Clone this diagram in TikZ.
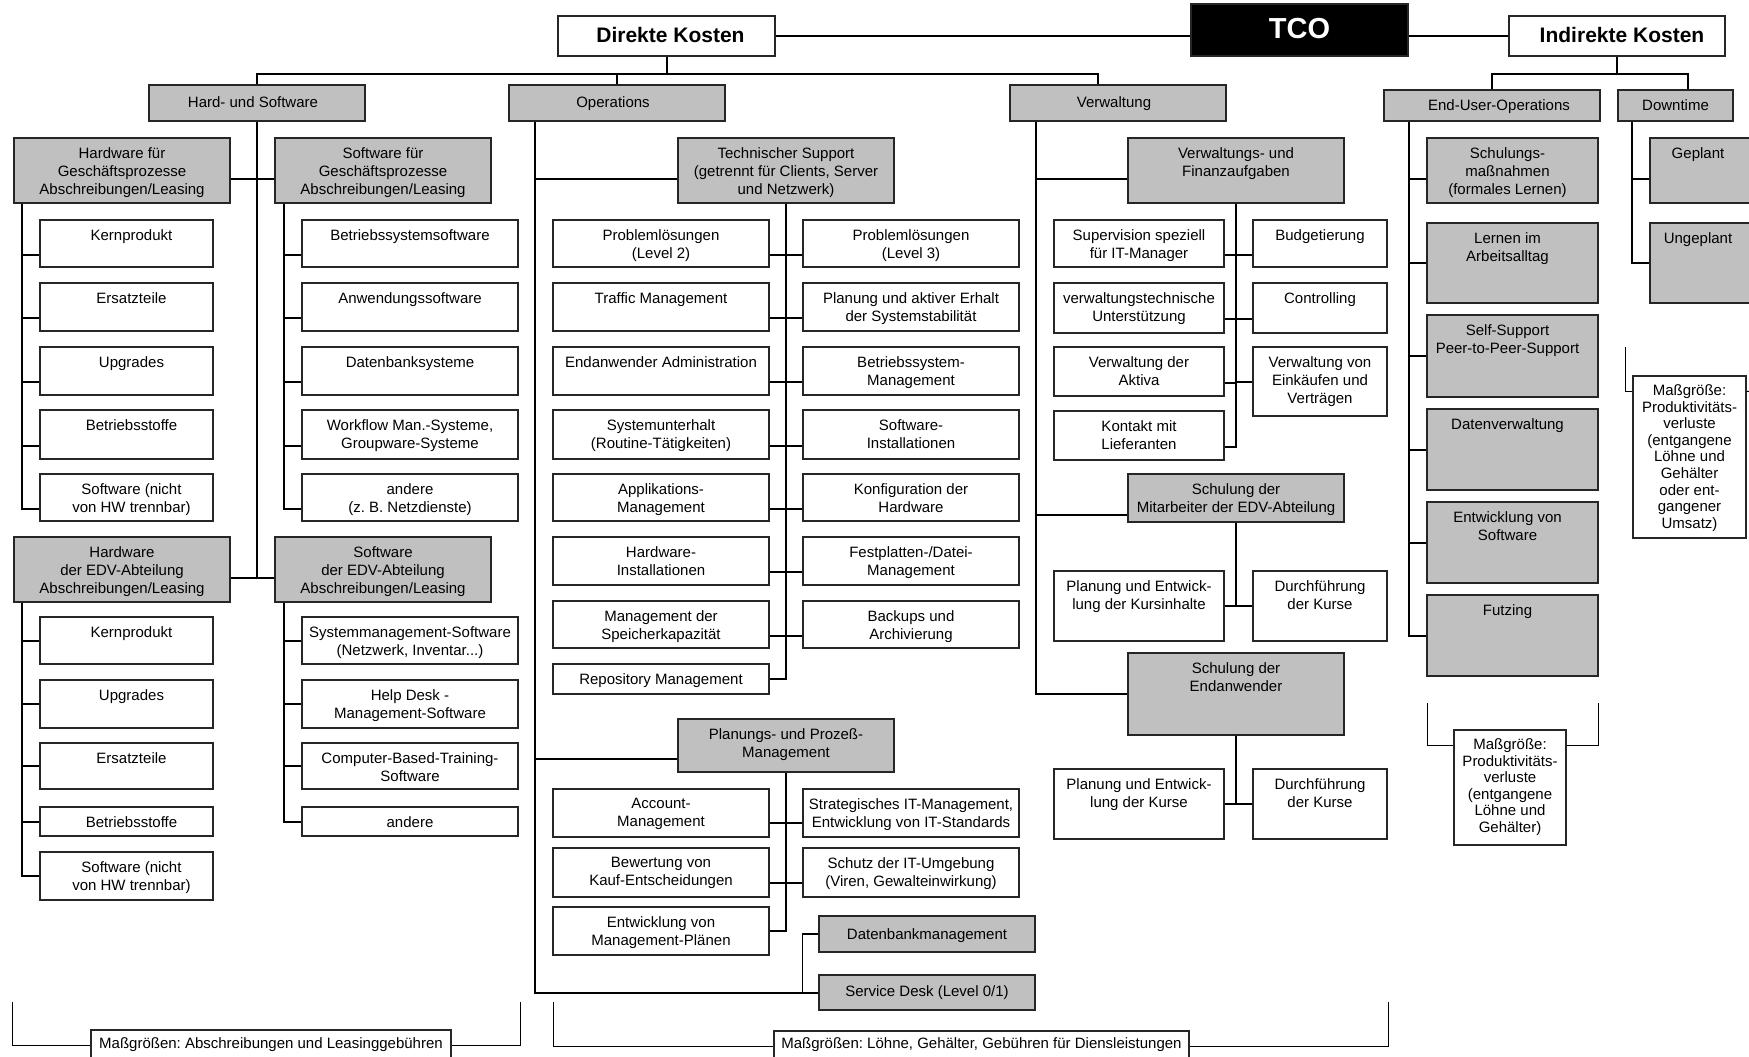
\documentclass[tikz,border=0pt]{standalone}
\usepackage{fontspec}
\setmainfont{Liberation Sans}
\usetikzlibrary{fit}
\definecolor{boxgray}{HTML}{C0C0C0}
\frenchspacing

\begin{document}
\begin{tikzpicture}[x=1pt, y=-1pt,
		conn/.style={line width=2pt},
		dbline/.style={line width=1.4pt},
		brk/.style={line width=1pt},
		box/.style={draw=black!85, line width=1.2pt, fill=white, inner sep=0pt},
		gbox/.style={box, line width=1.5pt, fill=boxgray},
		head/.style={box, line width=1.6pt},
		txt/.style={anchor=north, inner sep=0pt, align=center, font=\fontsize{15}{18}\selectfont},
		ntxt/.style={txt, font=\fontsize{15}{16.6}\selectfont},
		lbl/.style={label={[txt, yshift=-10pt]north:{#1}}},
		clbl/.style 2 args={label={[txt, #1]north:{#2}}},
		hlbl/.style 2 args={label={[txt, yshift=-12pt, xshift=#1, font=\bfseries\fontsize{21}{24}\selectfont]north:{#2}}},
		nlbl/.style={label={[ntxt, yshift=-9pt]north:{#1}}}]
		\useasboundingbox (0,0) rectangle (1749,1057);
		\clip (0,0) rectangle (1749,1057);

		\node[head, fit={(558,16) (775,56)}, hlbl={4pt}{Direkte Kosten}] (dk) {};
		\node[head, fill=black, fit={(1191,4) (1408,56)}, label={[txt, yshift=-15pt, text=white, font=\bfseries\fontsize{29}{32}\selectfont]north:{TCO}}] (tco) {};
		\node[head, fit={(1509,16) (1725,56)}, hlbl={5pt}{Indirekte Kosten}] (ik) {};

		\node[gbox, fit={(149,85) (365,121)}, clbl={yshift=-12pt, xshift=-4pt}{Hard- und Software}] (hs) {};
		\node[gbox, fit={(509,85) (725,121)}, clbl={yshift=-12pt, xshift=-4pt}{Operations}] (ops) {};
		\node[gbox, fit={(1010,85) (1226,121)}, clbl={yshift=-12pt, xshift=-4pt}{Verwaltung}] (vw) {};
		\node[gbox, fit={(1384,90) (1600,121)}, clbl={yshift=-10pt, xshift=7pt}{End-User-Operations}] (euo) {};
		\node[gbox, fit={(1618,90) (1733,121)}, clbl={yshift=-10pt}{Downtime}] (dt) {};

		\node[gbox, fit={(14,138) (230,203)}, lbl={Hardware für\\Geschäftsprozesse\\Abschreibungen/Leasing}] (hwgp) {};
		\node[gbox, fit={(275,138) (491,203)}, lbl={Software für\\Geschäftsprozesse\\Abschreibungen/Leasing}] (swgp) {};
		\node[box, fit={(40,220) (213,267)}, clbl={yshift=-10pt, xshift=5pt}{Kernprodukt}] (a1) {};
		\node[box, fit={(40,283) (213,331)}, clbl={yshift=-10pt, xshift=5pt}{Ersatzteile}] (a2) {};
		\node[box, fit={(40,347) (213,395)}, clbl={yshift=-10pt, xshift=5pt}{Upgrades}] (a3) {};
		\node[box, fit={(40,410) (213,459)}, clbl={yshift=-10pt, xshift=5pt}{Betriebsstoffe}] (a4) {};
		\node[box, fit={(40,474) (213,521)}, clbl={yshift=-10pt, xshift=5pt}{Software (nicht\\von HW trennbar)}] (a5) {};
		\node[box, fit={(302,220) (518,267)}, lbl={Betriebssystemsoftware}] (b1) {};
		\node[box, fit={(302,283) (518,331)}, lbl={Anwendungssoftware}] (b2) {};
		\node[box, fit={(302,347) (518,395)}, lbl={Datenbanksysteme}] (b3) {};
		\node[box, fit={(302,410) (518,459)}, lbl={Workflow Man.-Systeme,\\Groupware-Systeme}] (b4) {};
		\node[box, fit={(302,474) (518,521)}, lbl={andere\\(z. B. Netzdienste)}] (b5) {};

		\node[gbox, fit={(14,537) (230,602)}, lbl={Hardware\\der EDV-Abteilung\\Abschreibungen/Leasing}] (hwedv) {};
		\node[gbox, fit={(275,537) (491,602)}, lbl={Software\\der EDV-Abteilung\\Abschreibungen/Leasing}] (swedv) {};
		\node[box, fit={(40,617) (213,664)}, clbl={yshift=-10pt, xshift=5pt}{Kernprodukt}] (c1) {};
		\node[box, fit={(40,680) (213,728)}, clbl={yshift=-10pt, xshift=5pt}{Upgrades}] (c2) {};
		\node[box, fit={(40,743) (213,789)}, clbl={yshift=-10pt, xshift=5pt}{Ersatzteile}] (c3) {};
		\node[box, fit={(40,807) (213,836)}, clbl={yshift=-10pt, xshift=5pt}{Betriebsstoffe}] (c4) {};
		\node[box, fit={(40,852) (213,900)}, clbl={yshift=-10pt, xshift=5pt}{Software (nicht\\von HW trennbar)}] (c5) {};
		\node[box, fit={(302,617) (518,664)}, lbl={Systemmanagement-Software\\(Netzwerk, Inventar...)}] (d1) {};
		\node[box, fit={(302,680) (518,728)}, lbl={Help Desk -\\Management-Software}] (d2) {};
		\node[box, fit={(302,743) (518,789)}, lbl={Computer-Based-Training-\\Software}] (d3) {};
		\node[box, fit={(302,807) (518,836)}, lbl={andere}] (d4) {};

		\node[gbox, fit={(678,138) (894,203)}, lbl={Technischer Support\\(getrennt für Clients, Server\\und Netzwerk)}] (ts) {};
		\node[box, fit={(553,220) (769,267)}, lbl={Problemlösungen\\(Level 2)}] (o1) {};
		\node[box, fit={(553,283) (769,331)}, lbl={Traffic Management}] (o2) {};
		\node[box, fit={(553,347) (769,395)}, lbl={Endanwender Administration}] (o3) {};
		\node[box, fit={(553,410) (769,459)}, lbl={Systemunterhalt\\(Routine-Tätigkeiten)}] (o4) {};
		\node[box, fit={(553,474) (769,521)}, lbl={Applikations-\\Management}] (o5) {};
		\node[box, fit={(553,537) (769,585)}, lbl={Hardware-\\Installationen}] (o6) {};
		\node[box, fit={(553,601) (769,648)}, lbl={Management der\\Speicherkapazität}] (o7) {};
		\node[box, fit={(553,664) (769,694)}, lbl={Repository Management}] (o8) {};
		\node[box, fit={(803,220) (1019,267)}, lbl={Problemlösungen\\(Level 3)}] (p1) {};
		\node[box, fit={(803,283) (1019,331)}, lbl={Planung und aktiver Erhalt\\der Systemstabilität}] (p2) {};
		\node[box, fit={(803,347) (1019,395)}, lbl={Betriebssystem-\\Management}] (p3) {};
		\node[box, fit={(803,410) (1019,459)}, lbl={Software-\\Installationen}] (p4) {};
		\node[box, fit={(803,474) (1019,521)}, lbl={Konfiguration der\\Hardware}] (p5) {};
		\node[box, fit={(803,537) (1019,585)}, lbl={Festplatten-/Datei-\\Management}] (p6) {};
		\node[box, fit={(803,601) (1019,648)}, lbl={Backups und\\Archivierung}] (p7) {};

		\node[gbox, fit={(678,719) (894,772)}, lbl={Planungs- und Prozeß-\\Management}] (pup) {};
		\node[box, fit={(553,789) (769,837)}, lbl={Account-\\Management}] (q1) {};
		\node[box, fit={(553,848) (769,897)}, lbl={Bewertung von\\Kauf-Entscheidungen}] (q2) {};
		\node[box, fit={(553,907) (769,955)}, lbl={Entwicklung von\\Management-Plänen}] (q3) {};
		\node[box, fit={(803,789) (1019,837)}, lbl={Strategisches IT-Management,\\Entwicklung von IT-Standards}] (r1) {};
		\node[box, fit={(803,848) (1019,897)}, lbl={Schutz der IT-Umgebung\\(Viren, Gewalteinwirkung)}] (r2) {};
		\node[gbox, fit={(819,916) (1035,952)}, clbl={yshift=-13pt}{Datenbankmanagement}] (db) {};
		\node[gbox, fit={(819,975) (1035,1010)}, clbl={yshift=-11pt}{Service Desk (Level 0/1)}] (sd) {};

		\node[gbox, fit={(1128,138) (1344,203)}, lbl={Verwaltungs- und\\Finanzaufgaben}] (vuf) {};
		\node[box, fit={(1054,220) (1224,267)}, lbl={Supervision speziell\\für IT-Manager}] (v1) {};
		\node[box, fit={(1054,283) (1224,333)}, lbl={verwaltungstechnische\\Unterstützung}] (v2) {};
		\node[box, fit={(1054,347) (1224,396)}, lbl={Verwaltung der\\Aktiva}] (v3) {};
		\node[box, fit={(1054,411) (1224,460)}, lbl={Kontakt mit\\Lieferanten}] (v4) {};
		\node[box, fit={(1253,220) (1387,267)}, lbl={Budgetierung}] (w1) {};
		\node[box, fit={(1253,283) (1387,333)}, lbl={Controlling}] (w2) {};
		\node[box, fit={(1253,347) (1387,416)}, lbl={Verwaltung von\\Einkäufen und\\Verträgen}] (w3) {};
		\node[gbox, fit={(1128,474) (1344,522)}, lbl={Schulung der\\Mitarbeiter der EDV-Abteilung}] (sdm) {};
		\node[box, fit={(1054,571) (1224,641)}, lbl={Planung und Entwick-\\lung der Kursinhalte}] (k1) {};
		\node[box, fit={(1253,571) (1387,641)}, lbl={Durchführung\\der Kurse}] (k2) {};
		\node[gbox, fit={(1128,653) (1344,735)}, lbl={Schulung der\\Endanwender}] (sde) {};
		\node[box, fit={(1054,769) (1224,839)}, lbl={Planung und Entwick-\\lung der Kurse}] (k3) {};
		\node[box, fit={(1253,769) (1387,839)}, lbl={Durchführung\\der Kurse}] (k4) {};

		\node[gbox, fit={(1427,138) (1598,203)}, clbl={yshift=-10pt, xshift=-5pt}{Schulungs-\\maßnahmen\\(formales Lernen)}] (e1) {};
		\node[gbox, fit={(1427,223) (1598,303)}, clbl={yshift=-10pt, xshift=-5pt}{Lernen im\\Arbeitsalltag}] (e2) {};
		\node[gbox, fit={(1427,315) (1598,397)}, clbl={yshift=-10pt, xshift=-5pt}{Self-Support\\Peer-to-Peer-Support}] (e3) {};
		\node[gbox, fit={(1427,409) (1598,490)}, clbl={yshift=-10pt, xshift=-5pt}{Datenverwaltung}] (e4) {};
		\node[gbox, fit={(1427,502) (1598,583)}, clbl={yshift=-10pt, xshift=-5pt}{Entwicklung von\\Software}] (e5) {};
		\node[gbox, fit={(1427,595) (1598,676)}, clbl={yshift=-10pt, xshift=-5pt}{Futzing}] (e6) {};
		\node[gbox, fit={(1650,138) (1752,203)}, clbl={yshift=-10pt, xshift=-3pt}{Geplant}] (g1) {};
		\node[gbox, fit={(1650,223) (1752,303)}, clbl={yshift=-10pt, xshift=-3pt}{Ungeplant}] (g2) {};

		\node[box, fit={(91,1030) (451,1062)}, clbl={yshift=-8pt}{Maßgrößen: Abschreibungen und Leasinggebühren}] (m1) {};
		\node[box, fit={(774,1031) (1189,1062)}, clbl={yshift=-7.5pt}{Maßgrößen: Löhne, Gehälter, Gebühren für Diensleistungen}] (m2) {};
		\node[box, fit={(1454,730) (1566,845)}, nlbl={Maßgröße:\\Produktivitäts-\\verluste\\(entgangene\\Löhne und\\Gehälter)}] (m3) {};
		\node[box, fit={(1633,376) (1746,538)}, nlbl={Maßgröße:\\Produktivitäts-\\verluste\\(entgangene\\Löhne und\\Gehälter\\oder ent-\\gangener\\Umsatz)}] (m4) {};

		\draw[conn] (dk.east) -- (dk.east -| tco.west);
		\draw[conn] (ik.west) -- (ik.west -| tco.east);
		\coordinate (dkbus) at ([yshift=-17pt]dk.south);
		\draw[conn] (dk.south) -- (dkbus);
		\draw[conn] (hs.north) |- (dkbus);
		\draw[conn] (ops.north) |- (dkbus);
		\draw[conn] ([xshift=-20pt]vw.north) |- (dkbus);
		\coordinate (ikbus) at ([yshift=-17pt]ik.south);
		\draw[conn] (ik.south) -- (ikbus);
		\draw[conn] (euo.north) |- (ikbus);
		\draw[conn] ([xshift=12.5pt]dt.north) |- (ikbus);

		\draw[conn] (hs.south) |- ([yshift=-8.5pt]hwgp.east);
		\draw[conn] (hs.south) |- ([yshift=-8.5pt]swgp.west);
		\draw[conn] (hs.south) |- ([yshift=-8pt]hwedv.east);
		\draw[conn] (hs.south) |- ([yshift=-8pt]swedv.west);
		\coordinate (ta) at ([xshift=9pt]hwgp.south west);
		\draw[conn] (ta) |- ([yshift=-11pt]a1.west);
		\draw[conn] (ta) |- ([yshift=-11pt]a2.west);
		\draw[conn] (ta) |- ([yshift=-11pt]a3.west);
		\draw[conn] (ta) |- ([yshift=-11pt]a4.west);
		\draw[conn] (ta) |- ([yshift=-11pt]a5.west);
		\coordinate (tb) at ([xshift=10pt]swgp.south west);
		\draw[conn] (tb) |- ([yshift=-11pt]b1.west);
		\draw[conn] (tb) |- ([yshift=-11pt]b2.west);
		\draw[conn] (tb) |- ([yshift=-11pt]b3.west);
		\draw[conn] (tb) |- ([yshift=-11pt]b4.west);
		\draw[conn] (tb) |- ([yshift=-11pt]b5.west);
		\coordinate (tc) at ([xshift=9pt]hwedv.south west);
		\draw[conn] (tc) |- (c1.west);
		\draw[conn] (tc) |- (c2.west);
		\draw[conn] (tc) |- (c3.west);
		\draw[conn] (tc) |- (c4.west);
		\draw[conn] (tc) |- (c5.west);
		\coordinate (td) at ([xshift=10pt]swedv.south west);
		\draw[conn] (td) |- (d1.west);
		\draw[conn] (td) |- (d2.west);
		\draw[conn] (td) |- (d3.west);
		\draw[conn] (td) |- (d4.west);

		\coordinate (ot) at ([xshift=27pt]ops.south west);
		\draw[conn] (ot) |- ([yshift=-8.5pt]ts.west);
		\draw[conn] (ot) |- ([yshift=-13.5pt]pup.west);
		\draw[conn] (ot) |- (sd.west);
		\draw[dbline] (db.west) -| ([xshift=-16pt]sd.west);
		\draw[conn] (ts.south) |- ([yshift=-11pt]o1.east);
		\draw[conn] (ts.south) |- ([yshift=-11pt]o2.east);
		\draw[conn] (ts.south) |- ([yshift=-11pt]o3.east);
		\draw[conn] (ts.south) |- ([yshift=-11pt]o4.east);
		\draw[conn] (ts.south) |- ([yshift=-11pt]o5.east);
		\draw[conn] (ts.south) |- ([yshift=-11pt]o6.east);
		\draw[conn] (ts.south) |- ([yshift=-11pt]o7.east);
		\draw[conn] (ts.south) |- (o8.east);
		\draw[conn] (ts.south) |- ([yshift=-11pt]p1.west);
		\draw[conn] (ts.south) |- ([yshift=-11pt]p2.west);
		\draw[conn] (ts.south) |- ([yshift=-11pt]p3.west);
		\draw[conn] (ts.south) |- ([yshift=-11pt]p4.west);
		\draw[conn] (ts.south) |- ([yshift=-11pt]p5.west);
		\draw[conn] (ts.south) |- ([yshift=-11pt]p6.west);
		\draw[conn] (ts.south) |- ([yshift=-11pt]p7.west);
		\draw[conn] (pup.south) |- ([yshift=-10pt]q1.east);
		\draw[conn] (pup.south) |- ([yshift=-10pt]q2.east);
		\draw[conn] (pup.south) |- (q3.east);
		\draw[conn] (pup.south) |- ([yshift=-10pt]r1.west);
		\draw[conn] (pup.south) |- ([yshift=-10pt]r2.west);

		\coordinate (vt) at ([xshift=27pt]vw.south west);
		\draw[conn] (vt) |- ([yshift=-8.5pt]vuf.west);
		\draw[conn] (vt) |- ([yshift=-17pt]sdm.west);
		\draw[conn] (vt) |- (sde.west);
		\draw[conn] (vuf.south) |- ([yshift=-11pt]v1.east);
		\draw[conn] (vuf.south) |- ([yshift=-11pt]v2.east);
		\draw[conn] (vuf.south) |- ([yshift=-11pt]v3.east);
		\draw[conn] (vuf.south) |- ([yshift=-11pt]v4.east);
		\draw[conn] (vuf.south) |- ([yshift=-11pt]w1.west);
		\draw[conn] (vuf.south) |- ([yshift=-11pt]w2.west);
		\draw[conn] (vuf.south) |- (w3.west);
		\draw[conn] (sdm.south) |- (k1.east);
		\draw[conn] (sdm.south) |- (k2.west);
		\draw[conn] (sde.south) |- (k3.east);
		\draw[conn] (sde.south) |- (k4.west);

		\coordinate (et) at ([xshift=26pt]euo.south west);
		\draw[conn] (et) |- ([yshift=-8.5pt]e1.west);
		\draw[conn] (et) |- (e2.west);
		\draw[conn] (et) |- (e3.west);
		\draw[conn] (et) |- (e4.west);
		\draw[conn] (et) |- (e5.west);
		\draw[conn] (et) |- (e6.west);
		\coordinate (gt) at ([xshift=15pt]dt.south west);
		\draw[conn] (gt) |- ([yshift=-8pt]g1.west);
		\draw[conn] (gt) |- (g2.west);

		\coordinate (m1a) at (12,1002);
		\coordinate (m1b) at (520,1002);
		\coordinate (m2a) at (553,1002);
		\coordinate (m2b) at (1388,1002);
		\coordinate (m3a) at (1427,703);
		\coordinate (m3b) at (1598,703);
		\coordinate (m4a) at (1625,347);
		\coordinate (m4b) at (1760,392);
		\draw[brk] (m1a) |- ([yshift=-16pt]m1.north west);
		\draw[brk] ([yshift=-16pt]m1.north east) -| (m1b);
		\draw[brk] (m2a) |- ([yshift=-16pt]m2.north west);
		\draw[brk] ([yshift=-16pt]m2.north east) -| (m2b);
		\draw[brk] (m3a) |- ([yshift=-16pt]m3.north west);
		\draw[brk] ([yshift=-16pt]m3.north east) -| (m3b);
		\draw[brk] (m4a) |- ([yshift=-16pt]m4.north west);
		\draw[brk] ([yshift=-16pt]m4.north east) -- (m4b);
		\end{tikzpicture}
\end{document}
